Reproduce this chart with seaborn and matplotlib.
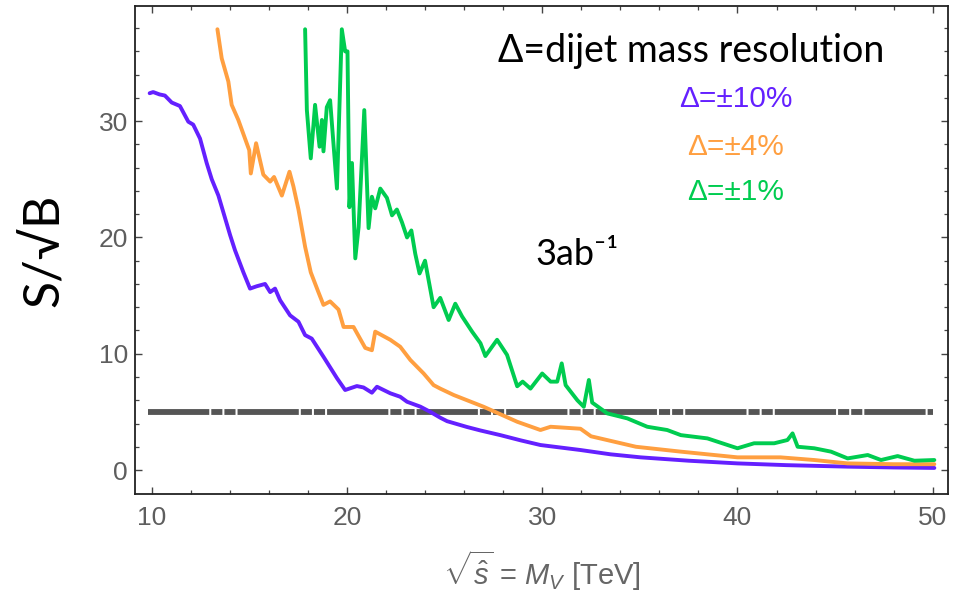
import matplotlib
matplotlib.use("Agg")
import matplotlib.pyplot as plt
import seaborn as sns
import numpy as np

# ---------------- data ----------------
purple_x = [9.9, 10.08, 10.4, 10.68, 11.03, 11.45, 11.88, 12.13, 12.48, 12.82, 13.08, 13.42,
            14.02, 14.27, 14.7, 15.04, 15.38, 15.81, 16.07, 16.32, 16.58, 17.09, 17.52, 17.86,
            18.2, 18.8, 19.49, 19.91, 20.51, 20.85, 21.28, 21.54, 22.22, 22.73, 23.08, 23.76,
            24.27, 24.78, 25.13, 26.15, 26.84, 27.86, 28.9, 29.91, 31.96, 33.5, 35.04, 37.5,
            40.0, 42.5, 45.64, 48.0, 50.08]
purple_y = [32.4, 32.5, 32.3, 32.2, 31.6, 31.3, 29.95, 29.7, 28.5, 26.4, 25.0, 23.6,
            20.2, 18.9, 17.0, 15.6, 15.8, 16.0, 15.3, 15.6, 14.6, 13.3, 12.75, 11.6,
            11.3, 9.74, 7.9, 6.88, 7.22, 7.1, 6.65, 7.16, 6.6, 6.3, 5.87, 5.45,
            5.0, 4.5, 4.2, 3.7, 3.4, 3.0, 2.55, 2.15, 1.72, 1.35, 1.09, 0.8,
            0.57, 0.42, 0.29, 0.22, 0.18]

orange_x = [13.37, 13.59, 13.93, 14.10, 14.44, 14.87, 15.0, 15.08, 15.35, 15.5, 15.72, 16.07,
            16.27, 16.67, 17.06, 17.26, 17.52, 17.86, 18.15, 18.54, 18.80, 19.14, 19.57, 19.83,
            20.34, 20.94, 21.28, 21.45, 22.22, 22.73, 23.25, 23.93, 24.44, 24.78, 25.47, 27.0,
            28.72, 29.91, 30.43, 31.96, 32.5, 34.8, 37.1, 40.0, 42.2, 43.93, 45.64, 48.0, 50.08]
orange_y = [37.9, 35.4, 33.4, 31.4, 30.1, 28.1, 27.5, 25.5, 28.1, 27.0, 25.4, 24.8,
            25.2, 23.6, 25.65, 24.4, 22.4, 19.2, 17.0, 15.3, 14.2, 14.5, 13.8, 12.3,
            12.3, 10.5, 10.3, 11.9, 11.2, 10.6, 9.46, 8.3, 7.3, 7.0, 6.45, 5.44,
            4.15, 3.44, 3.72, 3.55, 2.9, 2.0, 1.58, 1.09, 1.09, 0.86, 0.57, 0.5, 0.5]

green_x = [17.86, 17.95, 18.15, 18.37, 18.6, 18.72, 18.8, 18.97, 19.14, 19.49, 19.74, 19.91,
           20.03, 20.13, 20.26, 20.43, 20.6, 20.89, 21.11, 21.28, 21.45, 21.71, 22.05, 22.31,
           22.56, 22.82, 23.08, 23.3, 23.5, 23.72, 24.0, 24.44, 24.78, 25.21, 25.55, 25.9,
           26.41, 26.84, 27.09, 27.69, 28.2, 28.72, 29.0, 29.4, 30.0, 30.43, 30.77, 31.0,
           31.2, 31.8, 32.13, 32.39, 32.56, 33.33, 34.36, 35.38, 36.4, 37.1, 38.46, 40.0,
           40.85, 41.88, 42.56, 42.82, 43.08, 43.93, 44.79, 45.64, 46.67, 47.35, 48.2, 49.06, 50.08]
green_y = [37.9, 30.95, 26.8, 31.4, 27.8, 30.1, 27.4, 31.2, 31.8, 24.2, 37.9, 36.0,
           36.0, 22.6, 26.4, 18.2, 20.9, 30.95, 20.8, 23.5, 22.5, 24.2, 23.4, 21.9,
           22.4, 21.3, 20.0, 20.6, 18.6, 16.9, 18.0, 14.0, 14.8, 12.9, 14.3, 13.2,
           11.9, 10.9, 9.8, 11.2, 9.9, 7.2, 7.6, 7.0, 8.3, 7.6, 7.6, 9.17,
           7.3, 6.0, 5.44, 7.74, 5.8, 4.87, 4.44, 3.72, 3.44, 3.0, 2.72, 1.87,
           2.3, 2.3, 2.58, 3.15, 2.0, 1.87, 1.58, 1.0, 1.29, 0.86, 1.2, 0.8, 0.86]

threshold_x = [9.8, 50.0]
threshold_y = [5.0, 5.0]

labels = ["Δ=±10%", "Δ=±4%", "Δ=±1%"]
colors = ["#6420ff", "#ff9f40", "#00cc50"]

x_ticks = [10, 20, 30, 40, 50]
y_ticks = [0, 10, 20, 30]

# ---------------- style ----------------
sns.set_theme(style="ticks")
plt.rcParams['font.family'] = ['Liberation Sans', 'DejaVu Sans']
plt.rcParams['mathtext.fontset'] = 'custom'
plt.rcParams['mathtext.rm'] = 'Liberation Sans'
plt.rcParams['mathtext.it'] = 'Liberation Sans:italic'
plt.rcParams['mathtext.sf'] = 'Liberation Sans'

fig = plt.figure(figsize=(9.65, 6.0), dpi=100)
ax = fig.add_axes([0.1399, 0.1767, 0.8425, 0.8133])

sns.lineplot(x=threshold_x, y=threshold_y, ax=ax, color="#555555", lw=4.2,
             linestyle=(0, (10.5, 0.35, 1.9, 0.35, 1.9, 0.35)), sort=False)
for xs, ys, c in [(purple_x, purple_y, colors[0]), (orange_x, orange_y, colors[1]),
                  (green_x, green_y, colors[2])]:
    sns.lineplot(x=xs, y=ys, ax=ax, color=c, lw=2.8, sort=False, estimator=None)

ax.set_xlim(9.15, 50.78)
ax.set_ylim(-2.06, 39.9)
ax.set_xticks(x_ticks)
ax.set_yticks(y_ticks)
ax.set_xticks(np.arange(10, 51, 2), minor=True)
ax.set_yticks(np.arange(0, 39, 2), minor=True)
ax.tick_params(which='both', direction='in', top=True, right=True, colors='#444444',
               labelcolor='#5e5e5e', labelsize=19)
ax.tick_params(which='major', length=5, width=1.0)
ax.tick_params(which='minor', length=3, width=0.9)
ax.tick_params(axis='x', pad=9)
ax.tick_params(axis='y', pad=5)
ax.tick_params(top=True, right=True, labeltop=False, labelright=False)
for s in ax.spines.values():
    s.set_color('#222222')
    s.set_linewidth(1.3)

ax.set_xlabel(r'$\sqrt{\hat{s}}$ = $M_V$ [TeV]', fontsize=21, color='#666666', labelpad=13)
ax.set_ylabel('S/√B', fontsize=36, family=['Lato', 'DejaVu Sans'], color='black', labelpad=22)

ax.text(0.4465, 0.885, 'Δ=dijet mass resolution', transform=ax.transAxes, ha='left',
        va='baseline', fontsize=27, family=['Lato', 'DejaVu Sans'], color='black')
for lab, c, yy in zip(labels, colors, [0.793, 0.695, 0.602]):
    ax.text(0.739, yy, lab, transform=ax.transAxes, ha='center', va='baseline',
            fontsize=21.5, color=c)
ax.text(0.492, 0.469, '3ab⁻¹', transform=ax.transAxes, ha='left', va='baseline',
        fontsize=26, family=['Lato', 'DejaVu Sans'], color='black')

fig.savefig('out.png', dpi=100)
